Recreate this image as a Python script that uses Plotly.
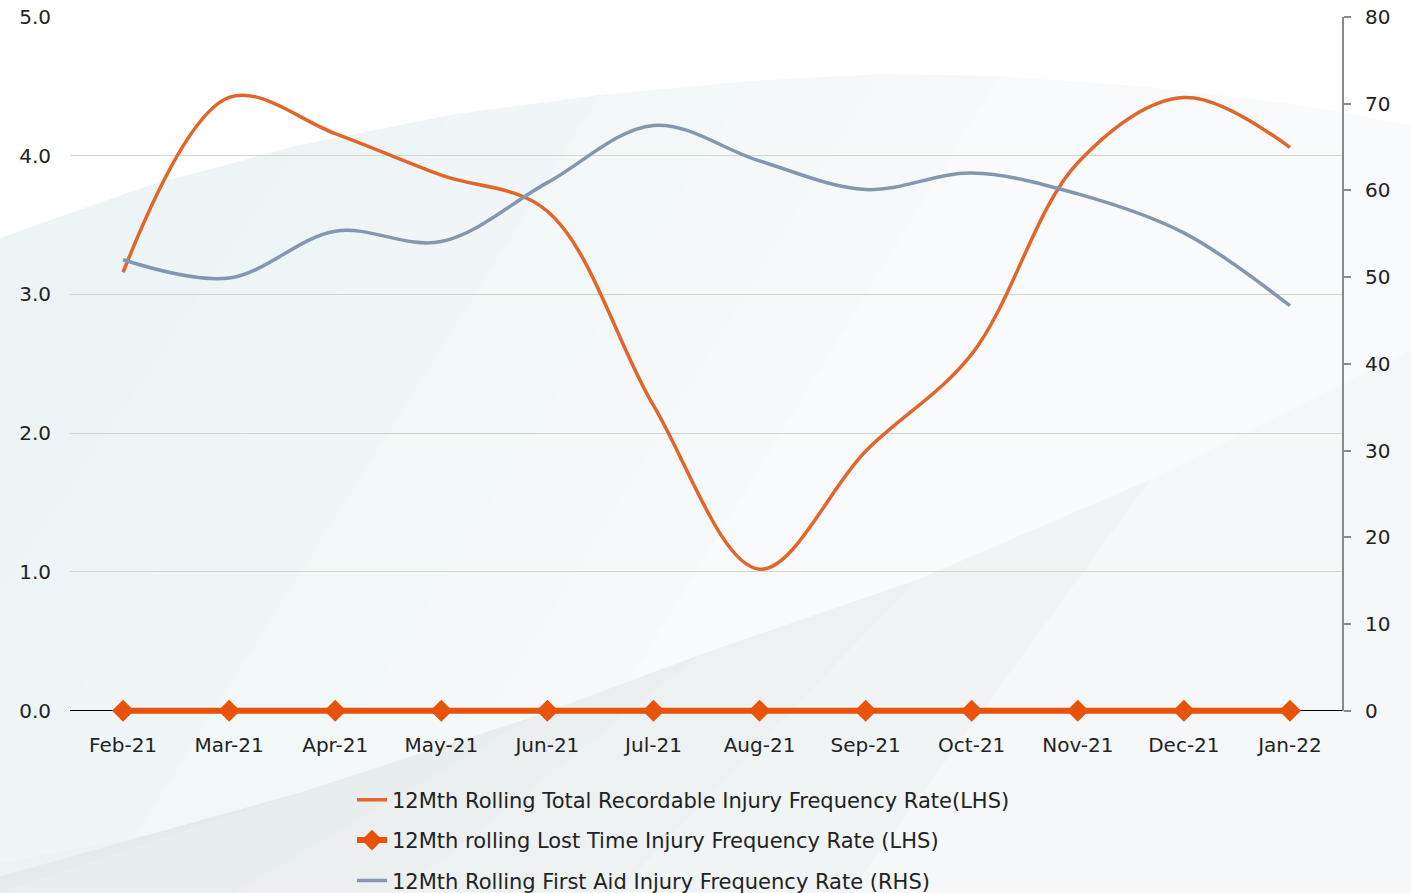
import plotly.graph_objects as go

months = ["Feb-21", "Mar-21", "Apr-21", "May-21", "Jun-21", "Jul-21",
          "Aug-21", "Sep-21", "Oct-21", "Nov-21", "Dec-21", "Jan-22"]
trifr = [3.16, 4.42, 4.16, 3.86, 3.60, 2.20, 1.02, 1.87, 2.57, 3.95, 4.42, 4.06]
ltifr = [0, 0, 0, 0, 0, 0, 0, 0, 0, 0, 0, 0]
faifr = [52.0, 49.9, 55.3, 54.1, 60.9, 67.5, 63.4, 60.1, 62.0, 59.6, 55.1, 46.7]

left_ticks = [0, 1, 2, 3, 4, 5]
right_ticks = [0, 10, 20, 30, 40, 50, 60, 70, 80]

name_trifr = "12Mth Rolling Total Recordable Injury Frequency Rate(LHS)"
name_ltifr = "12Mth rolling Lost Time Injury Frequency Rate (LHS)"
name_faifr = "12Mth Rolling First Aid Injury Frequency Rate (RHS)"

W, H = 1411, 893
Y_TOP, Y_ZERO = 17, 711          # pixel rows of value 5 and value 0
UNIT = (Y_ZERO - Y_TOP) / 5.0
NEG = 0.06                        # small room below zero so the zero line isn't clipped
ML, MR = 70, 68
MT = Y_TOP
PLOT_BOTTOM = Y_ZERO + NEG * UNIT
MB = H - PLOT_BOTTOM
PW, PH = W - ML - MR, PLOT_BOTTOM - MT


def px(x, y):
    return f"{(x - ML) / PW:.5f},{(PLOT_BOTTOM - y) / PH:.5f}"


def poly(pts):
    return "M" + " L".join(px(*p) for p in pts) + " Z"


FONT = "DejaVu Sans"
TXT = "#222222"

fig = go.Figure()
fig.add_trace(go.Scatter(
    x=months, y=trifr, name=name_trifr, mode="lines", legendgroup="a",
    line=dict(color="#E0662C", width=3.5, shape="spline", smoothing=1.0),
))
fig.add_trace(go.Scatter(
    x=months, y=ltifr, name=name_ltifr, mode="lines+markers", legendgroup="b",
    line=dict(color="#E8520A", width=6),
    marker=dict(symbol="diamond", size=17, color="#E8520A"),
    cliponaxis=False,
))
fig.add_trace(go.Scatter(
    x=months, y=faifr, name=name_faifr, mode="lines", legendgroup="c", yaxis="y2",
    line=dict(color="#8497B0", width=3.5, shape="spline", smoothing=1.0),
))

curve_a = [(0, 238), (150, 185), (300, 145), (450, 115), (600, 95), (750, 81),
           (880, 74), (1000, 76), (1150, 87), (1300, 105), (1411, 125)]
curve_b = [(0, 877), (150, 835), (300, 793), (534, 717), (700, 655), (917, 580),
           (1150, 480), (1411, 350)]

shapes = [
    dict(type="path", xref="paper", yref="paper", layer="below",
         path=poly(curve_a + [(1411, 893), (0, 893)]),
         fillcolor="#F8FAFB", line=dict(width=0)),
]
# soft bluish tint on the left part of the light band (stacked for a gradient)
for k in (2, 3, 4, 5, 6, 7):
    top = curve_a[:k + 1]
    cut_x = top[-1][0]
    shapes.append(dict(type="path", xref="paper", yref="paper", layer="below",
                       path=poly(top + [(cut_x - 500, 893), (0, 893)]),
                       fillcolor="#DCE8EE", line=dict(width=0), opacity=0.06))
# lower band
shapes.append(dict(type="path", xref="paper", yref="paper", layer="below",
                   path=poly(curve_b + [(1411, 893), (0, 893)]),
                   fillcolor="#F5F7F8", line=dict(width=0)))
for k in (1, 2, 3, 4, 5, 6):
    top = curve_b[:k + 1]
    cut_x = top[-1][0]
    shapes.append(dict(type="path", xref="paper", yref="paper", layer="below",
                       path=poly(top + [(cut_x - 300, 893), (0, 893)]),
                       fillcolor="#CFD9DE", line=dict(width=0), opacity=0.08))
# right-hand axis line spanning 0..80 only
shapes.append(dict(type="line", xref="paper", yref="y2", x0=1, x1=1, y0=0, y1=80,
                   line=dict(color="#8A8A8A", width=2), layer="above"))

fig.update_layout(
    width=W, height=H,
    margin=dict(l=ML, r=MR, t=MT, b=MB, pad=0, autoexpand=False),
    paper_bgcolor="#FFFFFF",
    plot_bgcolor="rgba(0,0,0,0)",
    font=dict(family=FONT, size=20, color=TXT),
    shapes=shapes,
    showlegend=True,
    legend=dict(
        x=(352 - ML) / PW, xanchor="left",
        y=-(780 - PLOT_BOTTOM) / PH, yanchor="top",
        orientation="v", bgcolor="rgba(0,0,0,0)",
        font=dict(family=FONT, size=21, color=TXT),
        tracegroupgap=10, traceorder="grouped",
    ),
    xaxis=dict(
        type="category", categoryorder="array", categoryarray=months,
        range=[-0.5, 11.5], showgrid=False, showline=False,
        ticks="", ticklabelstandoff=12,
        tickfont=dict(family=FONT, size=20, color=TXT), zeroline=False,
    ),
    yaxis=dict(
        range=[-NEG, 5], tickvals=left_ticks, tickformat=".1f",
        showgrid=True, gridcolor="#D6D6C8", gridwidth=1,
        zeroline=True, zerolinecolor="#000000", zerolinewidth=1.2,
        showline=False, ticks="", ticklabelstandoff=18,
        tickfont=dict(family=FONT, size=20, color=TXT),
    ),
    yaxis2=dict(
        range=[-NEG * 16, 80], tickvals=right_ticks, overlaying="y", side="right",
        showgrid=False, zeroline=False, showline=False,
        ticks="outside", ticklen=7, tickcolor="#8A8A8A",
        tickwidth=2, ticklabelstandoff=10,
        tickfont=dict(family=FONT, size=20, color=TXT),
    ),
)

fig.write_html("out.html", config={"displayModeBar": False},
               post_script="document.body.style.margin='0';document.body.style.padding='0';")
